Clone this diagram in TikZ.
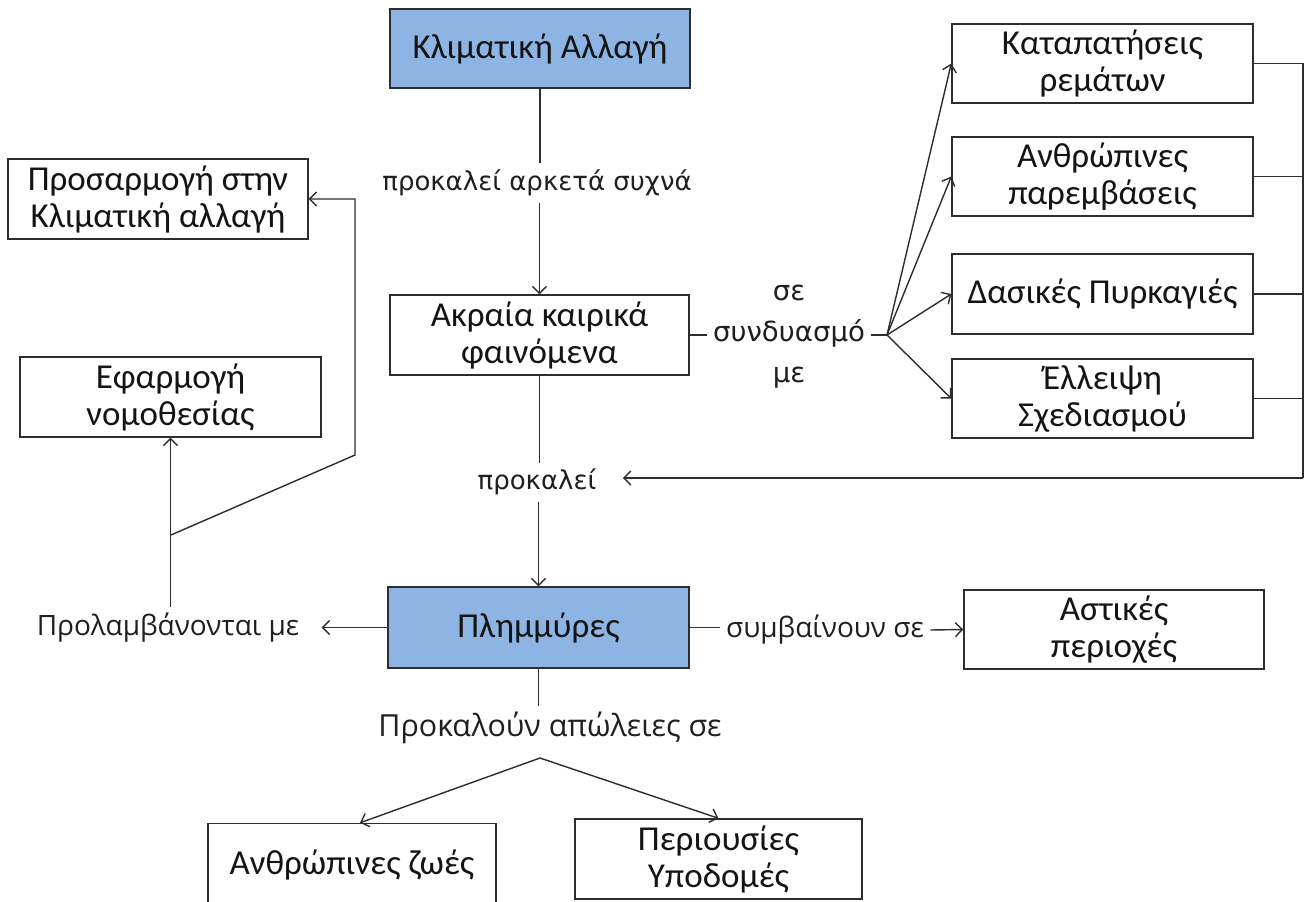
\documentclass[tikz,border=0pt]{standalone}
\usepackage{fontspec}
\setmainfont{Carlito}
\newfontfamily\lblA{DejaVu Sans}
\newfontfamily\lblB{Open Sans}
\usetikzlibrary{arrows.meta}
\definecolor{boxblue}{RGB}{142,180,227}
\definecolor{ink}{RGB}{45,45,45}
\begin{document}
\begin{tikzpicture}[x=0.5pt,y=-0.5pt,
  box/.style={draw=ink, line width=0.7pt, align=center, inner sep=0pt,
    font=\fontsize{17.5}{18.5}\selectfont, text=black!92},
  bluebox/.style={box, fill=boxblue},
  lab/.style={align=center, inner sep=3pt, text=black!88,
    font=\lblA\fontsize{13}{20}\selectfont},
  lab2/.style={lab, font=\lblA\fontsize{13.8}{20.5}\selectfont},
  labb/.style={align=center, inner sep=3pt, text=black!88,
    font=\lblB\fontsize{14}{17}\selectfont},
  labc/.style={labb, font=\lblB\fontsize{15.2}{17}\selectfont},
  conn/.style={draw=ink, line width=0.7pt},
  arr/.style={conn, -{Straight Barb[length=3.5pt,width=7pt]}}]
\useasboundingbox (0,0) rectangle (1307,901);
\clip (0,0) rectangle (1307,901);
\fill[white] (0,0) rectangle (1307,901);

% boxes
\node[bluebox, minimum width=150pt, minimum height=39.5pt] (cc) at (540,48.5) {Κλιματική Αλλαγή};
\node[box, minimum width=150pt, minimum height=40pt] (adapt) at (158,199) {Προσαρμογή στην\\Κλιματική αλλαγή};
\node[box, minimum width=150.5pt, minimum height=40pt] (law) at (170.5,397) {Εφαρμογή\\νομοθεσίας};
\node[box, minimum width=149.5pt, minimum height=40pt] (ext) at (539.5,335) {Ακραία καιρικά\\φαινόμενα};
\node[box, minimum width=150.5pt, minimum height=39.5pt] (r1) at (1102.5,63.5) {Καταπατήσεις\\ρεμάτων};
\node[box, minimum width=150.5pt, minimum height=39.5pt] (r2) at (1102.5,176.5) {Ανθρώπινες\\παρεμβάσεις};
\node[box, minimum width=150.5pt, minimum height=40pt] (r3) at (1102.5,294) {Δασικές Πυρκαγιές};
\node[box, minimum width=150.5pt, minimum height=39.5pt] (r4) at (1102.5,398.5) {Έλλειψη\\Σχεδιασμού};
\node[bluebox, minimum width=150.5pt, minimum height=40.5pt] (flood) at (538.5,627.5) {Πλημμύρες};
\node[box, minimum width=150pt, minimum height=39.5pt] (urban) at (1114,629.5) {Αστικές\\περιοχές};
\node[box, minimum width=144pt, minimum height=41pt] (lives) at (352,864.5) {Ανθρώπινες ζωές};
\node[box, minimum width=143.5pt, minimum height=40pt] (prop) at (718.5,859) {Περιουσίες\\Υποδομές};

% labels
\node[lab] (l1) at (537,183) {προκαλεί αρκετά συχνά};
\node[lab2] (l2) at (789,337) {σε\\συνδυασμό\\με};
\node[lab] (l3) at (537,482) {προκαλεί};
\node[labb] (l4) at (168,628) {Προλαμβάνονται με};
\node[labb] (l5) at (825,630) {συμβαίνουν σε};
\node[labc] (l6) at (550,728) {Προκαλούν απώλειες σε};

% helper points
\coordinate (fan) at (887,335);
\coordinate (busTop) at (1303,63.5);
\coordinate (busBot) at (1303,478);
\coordinate (br) at (171,535);
\coordinate (kink) at (355,455);
\coordinate (fork) at (540,758);

% connectors
\draw[conn] (cc.south) -- (cc.south |- l1.north);
\draw[arr] (ext.north |- l1.south) -- (ext.north);
\draw[conn] (ext.east) -- (l2.west |- ext.east);
\draw[conn] (l2.east |- fan) -- (fan);
\foreach \t in {r1,r2,r3,r4} \draw[arr] (fan) -- (\t.west);
\draw[conn] (r1.east) -- (busTop) -- (busBot);
\foreach \t in {r2,r3,r4} \draw[conn] (\t.east) -- (\t.east -| busTop);
\draw[arr, shorten >=10pt] (busBot) -- (l3.east |- busBot);
\draw[conn] (ext.south) -- (ext.south |- l3.north);
\draw[arr] (flood.north |- l3.south) -- (flood.north);
\draw[arr, shorten >=8pt] (flood.west) -- (l4.east |- flood.west);
\draw[arr] (law.south |- l4.north) -- (law.south);
\draw[arr] (br) -- (kink) -- (adapt.east -| kink) -- (adapt.east);
\draw[conn] (flood.east) -- (l5.west |- flood.east);
\draw[arr] (l5.east) -- (urban.west);
\draw[conn] (flood.south) -- (flood.south |- l6.north);
\draw[arr] (fork) -- ([xshift=4pt]lives.north);
\draw[arr] (fork) -- (prop.north);
\end{tikzpicture}
\end{document}
